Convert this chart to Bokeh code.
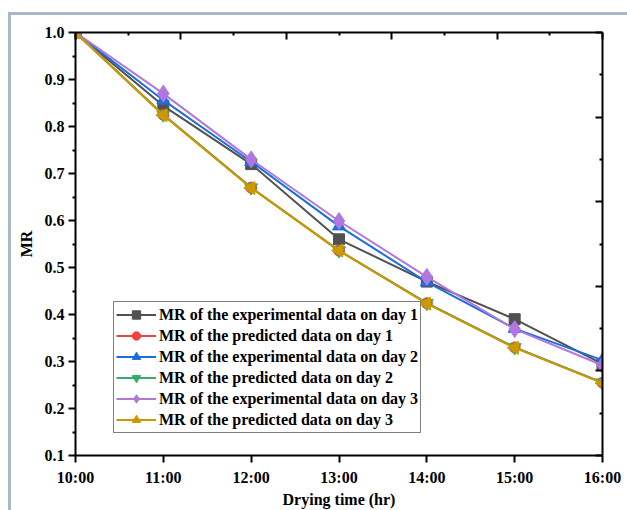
import math
from bokeh.plotting import figure
from bokeh.models import (FixedTicker, LinearAxis, Range1d, Legend, LegendItem,
                          InlineStyleSheet)
from bokeh.embed import file_html
from bokeh.resources import INLINE

# ---- data ----
hours = [10, 11, 12, 13, 14, 15, 16]
tick_labels = ["10:00", "11:00", "12:00", "13:00", "14:00", "15:00", "16:00"]
exp_day1 = [1.0, 0.844, 0.720, 0.560, 0.470, 0.390, 0.295]
pred_day1 = [1.0, 0.825, 0.670, 0.536, 0.424, 0.330, 0.255]
exp_day2 = [1.0, 0.856, 0.725, 0.588, 0.469, 0.370, 0.303]
pred_day2 = [1.0, 0.825, 0.670, 0.536, 0.424, 0.330, 0.255]
exp_day3 = [1.0, 0.870, 0.730, 0.599, 0.480, 0.369, 0.292]
pred_day3 = [1.0, 0.824, 0.669, 0.536, 0.423, 0.329, 0.254]
y_ticks = [0.1, 0.2, 0.3, 0.4, 0.5, 0.6, 0.7, 0.8, 0.9, 1.0]
y_tick_labels = ["0.1", "0.2", "0.3", "0.4", "0.5", "0.6", "0.7", "0.8", "0.9", "1.0"]

# name, values, colour, marker, size, angle
series = [
    ("MR of the experimental data on day 1", exp_day1, "#515151", "square", 11, 0),
    ("MR of the predicted data on day 1", pred_day1, "#F14040", "circle", 11, 0),
    ("MR of the experimental data on day 2", exp_day2, "#1A6FDF", "triangle", 13, 0),
    ("MR of the predicted data on day 2", pred_day2, "#37AD6B", "inverted_triangle", 13, 0),
    ("MR of the experimental data on day 3", exp_day3, "#B177DE", "diamond", 17, 0),
    ("MR of the predicted data on day 3", pred_day3, "#CC9900", "triangle", 13, math.pi / 2),
]

FONT = "Liberation Serif"
FS = "16px"

p = figure(width=627, height=510, output_backend="svg", toolbar_location=None,
           x_range=Range1d(10, 16), y_range=Range1d(0.1, 1.0),
           min_border_left=75, min_border_right=25, min_border_top=32,
           min_border_bottom=54)
p.grid.visible = False
p.outline_line_color = None
p.background_fill_color = "white"
p.border_fill_color = "white"

# outer light frame drawn by CSS around the canvas
p.stylesheets = [InlineStyleSheet(css="""
:host { overflow: hidden; }
:host::after {
  content: ""; position: absolute; left: 8px; top: 12px;
  width: 700px; height: 600px; border: 3px solid #A9B8C6;
  pointer-events: none; box-sizing: border-box;
}
""")]

# bottom axis
xa = p.xaxis[0]
xa.ticker = FixedTicker(ticks=hours, minor_ticks=[])
xa.major_label_overrides = {h: t for h, t in zip(hours, tick_labels)}
xa.axis_label = "Drying time (hr)"
# left axis
ya = p.yaxis[0]
ya.ticker = FixedTicker(ticks=y_ticks,
                        minor_ticks=[round(v + 0.05, 2) for v in y_ticks[:-1]])
ya.major_label_overrides = {v: t for v, t in zip(y_ticks, y_tick_labels)}
ya.axis_label = "MR"

for ax in (xa, ya):
    ax.axis_line_width = 2
    ax.axis_line_color = "black"
    ax.major_tick_line_width = 2
    ax.minor_tick_line_width = 2
    ax.major_tick_out = 7
    ax.major_tick_in = 0
    ax.minor_tick_out = 3
    ax.minor_tick_in = 0
    ax.major_label_text_font = FONT
    ax.major_label_text_font_style = "bold"
    ax.major_label_text_font_size = FS
    ax.major_label_text_color = "black"
    ax.axis_label_text_font = FONT
    ax.axis_label_text_font_style = "bold"
    ax.axis_label_text_font_size = FS
    ax.axis_label_text_color = "black"
xa.major_label_standoff = 6
xa.axis_label_standoff = 2
ya.major_label_standoff = 4
ya.axis_label_standoff = 7

# top and right mirror axes (10 divisions)
p.extra_x_ranges = {"top": Range1d(0, 10)}
p.extra_y_ranges = {"right": Range1d(0, 10)}
top = LinearAxis(x_range_name="top")
right = LinearAxis(y_range_name="right")
for ax in (top, right):
    ax.ticker = FixedTicker(ticks=[0, 2, 4, 6, 8, 10], minor_ticks=[1, 3, 5, 7, 9])
    ax.axis_line_width = 2
    ax.axis_line_color = "black"
    ax.major_tick_line_width = 2
    ax.minor_tick_line_width = 2
    ax.major_tick_in = 7
    ax.major_tick_out = 0
    ax.minor_tick_in = 3
    ax.minor_tick_out = 0
    ax.major_label_text_font_size = "0px"
    ax.major_label_text_alpha = 0
    ax.major_label_standoff = 0
p.add_layout(top, "above")
p.add_layout(right, "right")

items = []
for name, vals, color, marker, size, angle in series:
    r1 = p.line(hours, vals, line_color=color, line_width=2)
    r2 = p.scatter(hours, vals, marker=marker, size=size, angle=angle,
                   fill_color=color, line_color=color)
    items.append(LegendItem(label=name, renderers=[r1, r2]))

legend = Legend(items=items, location=(38, 22), glyph_width=40, glyph_height=21,
                label_height=21, spacing=0, padding=2, margin=0,
                label_standoff=3,
                label_text_font=FONT, label_text_font_style="bold",
                label_text_font_size=FS, label_text_color="black",
                border_line_color="black", border_line_width=1,
                background_fill_color="white", background_fill_alpha=1)
p.add_layout(legend, "center")

open("out.html", "w").write(file_html(p, INLINE))
